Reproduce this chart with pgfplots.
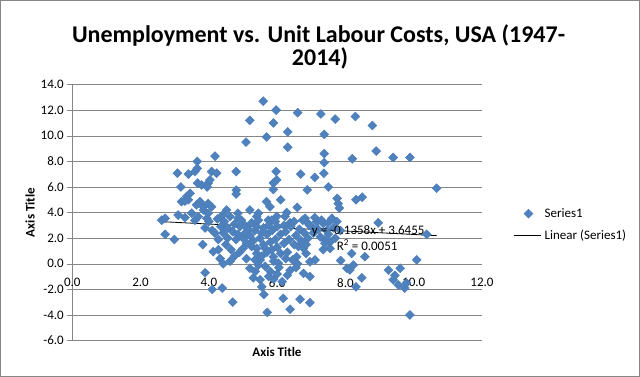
\documentclass[border=0pt]{standalone}
\usepackage{pgfplots}
\usepackage{pgfplotstable}
\pgfplotsset{compat=1.18}
\usepackage{fontspec}
\setmainfont{Carlito}
\definecolor{serfill}{RGB}{79,129,189}
\definecolor{serline}{RGB}{74,126,187}
\definecolor{gridc}{RGB}{134,134,134}
\pgfplotsset{
  markleg/.style={legend image code/.code={\path (0pt,0pt) (29pt,0pt);\draw[mark repeat=2,mark phase=2,##1] plot coordinates {(0pt,0pt) (15pt,0pt) (27pt,0pt)};}},
  lineleg/.style={legend image code/.code={\draw[##1] (0pt,0pt) -- (27pt,0pt);}},
}
\pgfplotstableread{
x y
5.59 12.7
5.97 12.0
6.60 11.8
7.28 11.7
7.70 11.3
8.29 11.5
5.20 11.2
5.89 11.0
8.79 10.8
6.31 10.3
7.38 10.1
5.69 9.9
5.09 9.5
6.31 9.1
8.90 8.8
7.38 8.6
4.18 8.4
8.20 8.2
9.40 8.3
9.89 8.3
3.66 8.0
7.38 7.9
3.08 7.07
3.40 7.0
3.59 7.2
3.66 7.45
4.08 7.2
4.23 7.07
4.80 7.2
5.97 7.2
6.69 7.0
7.37 7.07
7.10 6.75
3.18 6.0
3.67 6.3
3.79 6.15
3.98 6.3
4.03 6.55
3.95 6.0
4.80 5.75
5.89 6.3
5.99 6.55
5.89 5.8
6.88 5.77
7.50 6.0
10.67 5.9
4.80 5.45
3.20 4.85
3.35 5.25
3.45 5.5
3.40 5.0
3.30 4.9
3.74 4.85
3.84 4.45
3.98 4.7
4.08 4.45
3.64 4.6
5.69 4.85
5.79 4.45
6.10 5.0
7.76 5.1
7.79 4.7
7.82 4.35
8.31 5.0
8.49 5.2
6.59 4.4
6.28 4.0
2.62 3.4
2.72 3.55
3.10 3.8
3.50 3.95
3.59 3.4
3.69 3.68
3.84 4.2
3.94 3.55
3.98 3.95
4.52 4.2
4.62 3.68
4.86 3.55
5.20 4.2
5.45 3.95
5.40 3.7
5.74 3.4
5.99 3.7
5.84 3.4
6.23 3.7
6.38 3.2
6.82 3.55
6.91 3.15
7.16 3.3
7.35 3.15
7.60 3.55
8.96 3.2
3.30 3.6
4.00 3.3
4.25 3.5
4.40 3.8
4.45 3.3
4.75 3.1
4.95 3.4
5.05 3.0
5.25 3.2
5.45 3.4
5.75 3.0
5.95 3.3
6.20 3.0
6.50 3.3
6.75 3.4
7.10 3.6
7.30 3.4
7.50 3.2
7.75 3.3
4.85 3.95
2.72 2.3
3.89 2.8
4.91 2.9
5.06 2.4
4.18 2.4
4.42 2.4
4.28 1.9
7.01 2.9
7.06 2.4
7.26 2.1
7.40 1.85
7.55 1.7
7.70 2.0
10.38 2.3
4.10 2.6
4.35 2.9
4.55 2.8
4.70 2.5
4.85 2.3
5.15 2.7
5.20 2.2
5.35 2.6
5.50 2.0
5.55 2.4
5.60 2.8
5.70 2.3
5.85 2.6
6.00 2.9
6.10 2.3
6.25 2.5
6.40 2.9
6.55 2.2
6.65 2.7
6.80 2.4
6.90 2.0
6.95 3.0
7.20 2.7
7.45 2.6
7.50 2.3
7.65 2.8
7.85 2.6
4.55 2.0
5.40 2.9
2.99 1.9
3.82 1.5
4.13 0.95
4.28 1.1
4.33 0.4
4.42 0.0
4.62 0.2
5.11 1.6
5.25 1.35
5.40 0.8
5.50 0.3
5.84 1.1
5.89 0.55
6.03 0.05
6.62 1.35
6.77 1.2
6.96 0.15
7.11 0.3
7.35 1.1
7.55 1.2
7.40 1.6
7.86 0.25
8.18 0.8
8.23 -0.1
8.57 0.55
10.09 0.3
6.57 0.55
4.50 1.5
4.65 1.1
4.75 0.6
4.80 1.9
4.90 0.9
5.00 1.2
5.00 2.0
5.10 0.4
5.30 1.8
5.40 1.2
5.55 0.6
5.60 1.5
5.65 1.2
5.70 0.9
5.80 1.7
5.90 0.2
5.95 1.9
6.00 1.3
6.10 0.8
6.20 1.6
6.25 0.4
6.30 0.9
6.35 1.9
6.45 0.3
6.50 1.5
6.60 0.0
6.70 1.8
6.85 0.8
6.85 1.5
5.35 0.3
3.89 -0.7
4.10 -2.0
4.39 -1.9
4.70 -3.0
5.71 -3.8
5.61 -2.4
5.20 -0.35
5.30 -1.1
5.50 -1.25
5.55 -1.8
5.36 -0.6
6.38 -0.5
6.77 -0.75
6.96 -1.0
6.18 -2.7
6.67 -2.77
6.96 -3.04
6.38 -3.55
8.04 -0.35
8.48 -1.1
8.31 -1.8
8.13 -0.48
9.26 -0.5
9.45 -0.9
9.60 -0.35
9.40 -1.25
9.55 -1.65
9.74 -1.9
9.79 -1.5
9.89 -4.0
5.65 -0.2
5.80 -0.6
5.90 -1.2
6.05 -0.3
6.15 -1.4
5.45 -0.1
5.75 -1.0
6.00 -0.8
6.30 -0.9
6.55 -0.3
}\pts

\begin{document}
\begin{tikzpicture}[x=1pt,y=1pt]
\path[use as bounding box] (0,0) rectangle (640,377);
\draw[gridc, line width=1pt] (0.5,0.5) rectangle (639.5,376.5);
\node[anchor=base, inner sep=0pt, font=\bfseries\fontsize{24}{28}\selectfont] at (318.5,334) {Unemployment vs. Unit Labour Costs, USA (1947-};
\node[anchor=base, inner sep=0pt, font=\bfseries\fontsize{24}{28}\selectfont] at (320,311) {2014)};
\node[font=\bfseries\fontsize{13}{15}\selectfont] at (277,25) {Axis Title};
\node[rotate=90, font=\bfseries\fontsize{13}{15}\selectfont] at (30,164.5) {Axis Title};
\begin{axis}[
  at={(72.3pt,36.4pt)}, anchor=south west,
  scale only axis, width=409.7pt, height=256.1pt,
  xmin=0, xmax=12, ymin=-6, ymax=14,
  axis x line=middle, axis y line=left,
  axis line style={-, draw=gridc},
  xtick={0,2,...,12}, ytick={-6,-4,...,14},
  hide obscured x ticks=false, hide obscured y ticks=false,
  ymajorgrids, major grid style={draw=gridc},
  xtick style={draw=none},
  ytick style={draw=gridc},
  tick align=outside, major tick length=5pt,
  tick label style={font=\fontsize{13}{15}\selectfont},
  /pgf/number format/fixed,
  /pgf/number format/fixed zerofill,
  /pgf/number format/precision=1,
  /pgf/number format/assume math mode=true,
  xticklabel style={yshift=-6pt},
  legend style={draw=none, fill=none, at={(1.0755,0.453)}, anchor=west,
    font=\fontsize{13}{15}\selectfont, row sep=7pt, inner sep=0pt},
  legend cell align=left,
]
\addplot[only marks, mark=diamond*, mark size=4.5pt,
  mark options={xscale=1.333, fill=serfill, draw=serline, line width=0.4pt},
  markleg]
  table[x=x,y=y] {\pts};
\addlegendentry{Series1}
\addplot[black, line width=0.8pt, lineleg]
  coordinates {(2.62,3.2897) (10.67,2.1965)};
\addlegendentry{Linear (Series1)}
\coordinate (eqpos) at (axis cs:7.01,2.56);
\coordinate (rpos) at (axis cs:7.74,1.47);
\end{axis}
\node[anchor=west, inner sep=0pt, font=\fontsize{13}{15}\selectfont] at (eqpos) {y = -0.1358x + 3.6455};
\node[anchor=west, inner sep=0pt, font=\fontsize{13}{15}\selectfont] at (rpos) {R\textsuperscript{2} = 0.0051};
\end{tikzpicture}
\end{document}
